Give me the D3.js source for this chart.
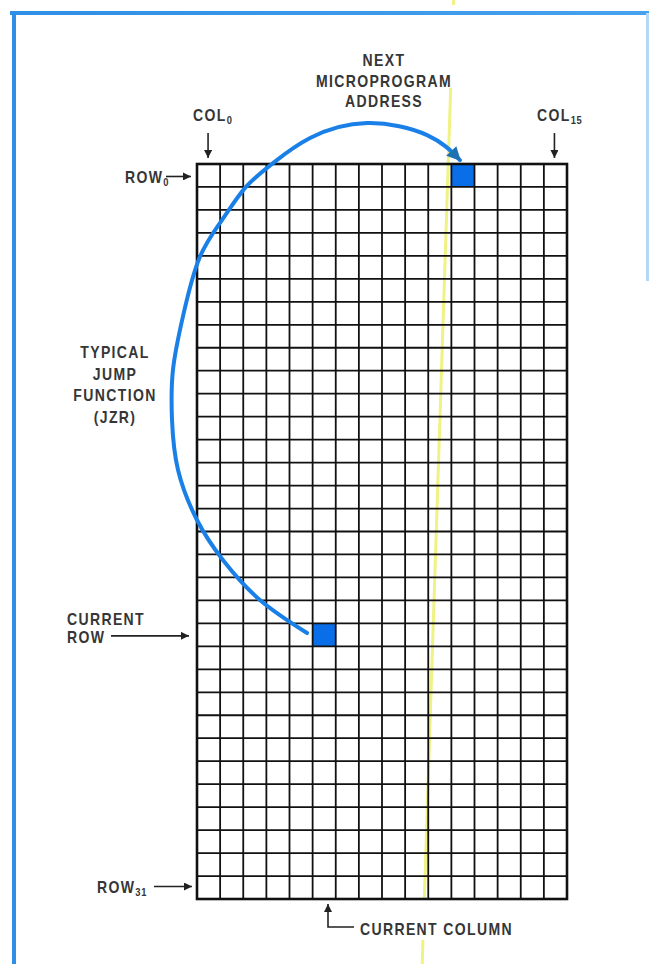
<!DOCTYPE html>
<html><head><meta charset="utf-8">
<script src="https://cdn.jsdelivr.net/npm/d3@7"></script>
<style>html,body{margin:0;padding:0;background:#fff;overflow:hidden}svg{display:block}</style>
</head><body>
<svg id="c" width="649" height="964"></svg>
<script>
// ---- data ----
const nCols = 16;            // COL0 .. COL15
const nRows = 32;            // ROW0 .. ROW31
const highlightedCells = [   // microprogram cells marked in blue
  {name: "next", col: 11, row: 0},
  {name: "current", col: 5, row: 20}
];
// jump arc traced in grid units [col, row]
const jumpArc = [
  [4.76, 20.42], [2.72, 18.98], [1.12, 17.24], [0.0, 15.5], [-0.82, 13.32],
  [-1.08, 11.15], [-1.04, 8.97], [-0.6, 6.6], [0.1, 4.1], [1.08, 2.44],
  [2.08, 1.04], [3.24, 0.0], [4.89, -1.13], [7.35, -1.78], [9.95, -1.26], [11.37, -0.17]
];
// yellow current-column marker, visible segments [col,row] pairs
const markerSegments = [
  [[11.10, -7.14], [11.09, -6.92]],
  [[10.97, -3.31], [9.83, 32.0]],
  [[9.77, 33.78], [9.74, 34.83]]
];
const titleLines = ["NEXT", "MICROPROGRAM", "ADDRESS"];
const jumpLines = ["TYPICAL", "JUMP", "FUNCTION", "(JZR)"];
const currentRowLines = ["CURRENT", "ROW"];
const currentColumnLabel = "CURRENT COLUMN";

// ---- drawing ----
const svg = d3.select("#c");
const x = d3.scaleLinear().domain([0, nCols]).range([197, 567]);
const y = d3.scaleLinear().domain([0, nRows]).range([164, 899]);
const ink = "#363636";
const font = "'Liberation Sans',Arial,sans-serif";
const squeeze = 0.85;

svg.append("rect").attr("width", 649).attr("height", 964).attr("fill", "#fff");

// page frame (blue)
const defs = svg.append("defs");
const grad = defs.append("linearGradient").attr("id", "fr").attr("x1", 0).attr("x2", 1);
grad.append("stop").attr("offset", "0").attr("stop-color", "#2f8ee6");
grad.append("stop").attr("offset", "1").attr("stop-color", "#47a2ee");
svg.append("rect").attr("x", 10).attr("y", 11).attr("width", 639).attr("height", 4).attr("fill", "url(#fr)");
svg.append("rect").attr("x", 12).attr("y", 11).attr("width", 4).attr("height", 953).attr("fill", "#2f8ee6");
svg.append("rect").attr("x", 646).attr("y", 13).attr("width", 3).attr("height", 268).attr("fill", "#b3d8f6");

// yellow marker line
svg.append("g").selectAll("line").data(markerSegments).join("line")
  .attr("x1", d => x(d[0][0])).attr("y1", d => y(d[0][1]))
  .attr("x2", d => x(d[1][0])).attr("y2", d => y(d[1][1]))
  .attr("stroke", "#f0f284").attr("stroke-width", 3);

// highlighted cells
svg.append("g").selectAll("rect").data(highlightedCells).join("rect")
  .attr("x", d => x(d.col)).attr("y", d => y(d.row))
  .attr("width", x(1) - x(0)).attr("height", y(1) - y(0))
  .attr("fill", "#0a6ee8");

// grid
const g = svg.append("g").attr("stroke", "#111").attr("stroke-width", 1.8);
g.selectAll("line.v").data(d3.range(nCols + 1)).join("line").attr("class", "v")
  .attr("x1", d => x(d)).attr("x2", d => x(d)).attr("y1", y(0)).attr("y2", y(nRows));
g.selectAll("line.h").data(d3.range(nRows + 1)).join("line").attr("class", "h")
  .attr("y1", d => y(d)).attr("y2", d => y(d)).attr("x1", x(0)).attr("x2", x(nCols));
svg.append("rect").attr("x", x(0)).attr("y", y(0)).attr("width", x(nCols) - x(0)).attr("height", y(nRows) - y(0))
  .attr("fill", "none").attr("stroke", "#111").attr("stroke-width", 2.6);

// markers
defs.append("marker").attr("id", "ah").attr("viewBox", "0 0 10 10").attr("refX", 10).attr("refY", 5)
  .attr("markerUnits", "userSpaceOnUse").attr("markerWidth", 9).attr("markerHeight", 8).attr("orient", "auto")
  .append("path").attr("d", "M0,0L10,5L0,10z").attr("fill", "#222");
defs.append("marker").attr("id", "bh").attr("viewBox", "0 0 10 10").attr("refX", 9).attr("refY", 5)
  .attr("markerUnits", "userSpaceOnUse").attr("markerWidth", 16).attr("markerHeight", 14).attr("orient", "auto")
  .append("path").attr("d", "M0,0L10,5L0,10z").attr("fill", "#1f72b0");

// jump arc
svg.append("path").datum(jumpArc)
  .attr("d", d3.line().x(d => x(d[0])).y(d => y(d[1])).curve(d3.curveNatural))
  .attr("fill", "none").attr("stroke", "#1a80e8").attr("stroke-width", 4).attr("stroke-linecap", "round")
  .attr("marker-end", "url(#bh)");

// black arrows
function arrow(pts) {
  svg.append("path").attr("d", d3.line()(pts)).attr("fill", "none")
    .attr("stroke", "#222").attr("stroke-width", 1.6).attr("marker-end", "url(#ah)");
}
const colMid = c => (x(c) + x(c + 1)) / 2;
const rowMid = r => (y(r) + y(r + 1)) / 2;
arrow([[colMid(0) - 0.5, 133], [colMid(0) - 0.5, 158]]);
arrow([[colMid(15) - 1, 133], [colMid(15) - 1, 158]]);
arrow([[166, rowMid(0) + 1], [191, rowMid(0) + 1]]);
arrow([[111, rowMid(20) + 1], [189, rowMid(20) + 1]]);
arrow([[154, rowMid(31) - 1], [192, rowMid(31) - 1]]);
arrow([[354, 927], [328, 927], [328, 904]]);

// text (bold, horizontally condensed)
function txt(s, px, py, anchor) {
  const t = svg.append("g").attr("transform", `translate(${px},${py}) scale(${squeeze},1)`)
    .append("text").attr("text-anchor", anchor || "start")
    .attr("font-family", font).attr("font-weight", "bold").attr("font-size", 16.5)
    .attr("letter-spacing", 1.6).attr("fill", ink).text(s);
  return t;
}
titleLines.forEach((s, i) => txt(s, 384, 66 + i * 20.5, "middle"));
jumpLines.forEach((s, i) => txt(s, 115, 358 + i * 21.5, "middle"));
currentRowLines.forEach((s, i) => txt(s, 67, 625 + i * 17.5, "start"));
txt(currentColumnLabel, 360, 935, "start");

function sub(base, subscript, px, py) {
  const t = txt(base, px, py, "start");
  t.append("tspan").attr("font-size", 11).attr("letter-spacing", 0.8).attr("dy", 3).text(subscript);
}
sub("COL", "0", 193, 121);
sub("COL", "15", 537, 121);
sub("ROW", "0", 125, 183);
sub("ROW", "31", 97, 893);
</script>
</body></html>
